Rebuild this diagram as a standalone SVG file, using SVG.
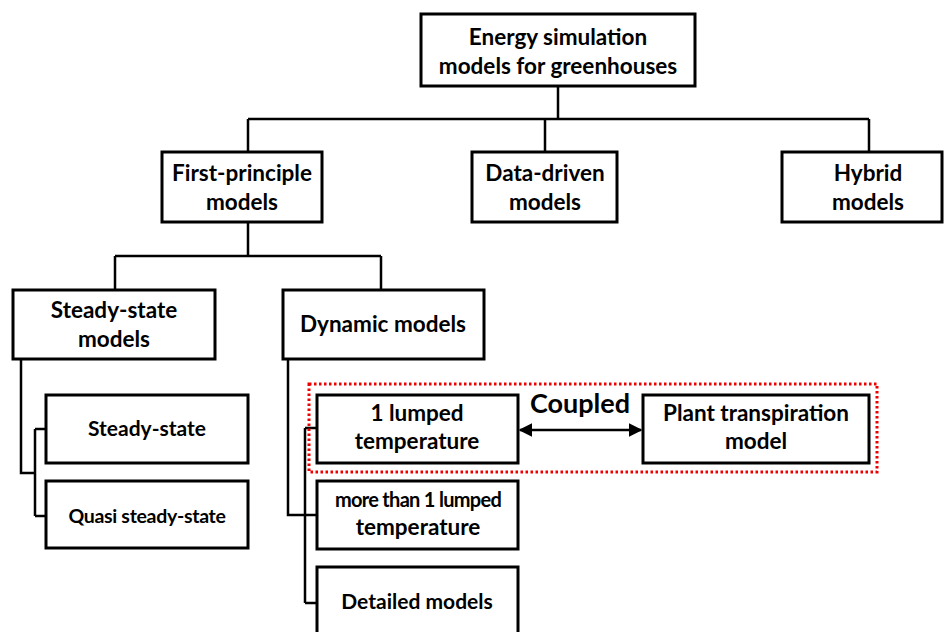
<svg xmlns="http://www.w3.org/2000/svg" width="944" height="632" viewBox="0 0 944 632">
<defs>
<style>
.box{fill:#fff;stroke:#000;stroke-width:3}
.t{font-family:Lato,"Open Sans","Liberation Sans",sans-serif;font-weight:bold;font-size:22.5px;text-anchor:middle;fill:#000}
.s{font-size:20px;letter-spacing:-0.7px}
.m{font-size:21px}
.q{font-size:19.5px;letter-spacing:-0.3px}
.c{font-size:27px}
.ln{fill:none;stroke:#000;stroke-width:2.5}
</style>
<marker id="ah" viewBox="0 0 10 10" refX="9" refY="5" markerWidth="5.5" markerHeight="5.5" orient="auto-start-reverse" markerUnits="strokeWidth">
<path d="M0,0 L10,5 L0,10 z" fill="#000"/>
</marker>
</defs>
<rect width="944" height="632" fill="#fff"/>
<g id="connectors">
<path class="ln" d="M558,86 V119 M248,119 H869 M248,119 V152 M545,119 V152 M869,119 V152"/>
<path class="ln" d="M248,222 V256 M115,256 H381 M115,256 V290 M381,256 V290"/>
<path class="ln" d="M21,359 V473 H35 M35,429 V516 M35,429 H46 M35,516 H46"/>
<path class="ln" d="M288,359 V515 H317 M305,428 V603 M305,428 H317 M305,603 H317"/>
<path class="ln" d="M520,430 H641" marker-start="url(#ah)" marker-end="url(#ah)"/>
<text class="t c" x="580" y="413">Coupled</text>
</g>
<rect x="309" y="384" width="568" height="88" fill="none" stroke="#e00" stroke-width="3" stroke-dasharray="2.5 2.5"/>
<g id="n-root"><rect class="box" x="421" y="14" width="274" height="72"/><text class="t" x="558" y="45">Energy simulation</text><text class="t" x="558" y="74">models for greenhouses</text></g>
<g id="n-first"><rect class="box" x="162" y="152" width="160" height="70"/><text class="t" x="242" y="181">First-principle</text><text class="t" x="242" y="210">models</text></g>
<g id="n-data"><rect class="box" x="472" y="152" width="145" height="70"/><text class="t" x="545" y="181">Data-driven</text><text class="t" x="545" y="210">models</text></g>
<g id="n-hybrid"><rect class="box" x="782" y="152" width="160" height="70"/><text class="t" x="868" y="181">Hybrid</text><text class="t" x="868" y="210">models</text></g>
<g id="n-steadymodels"><rect class="box" x="13" y="290" width="202" height="69"/><text class="t" x="114" y="318">Steady-state</text><text class="t" x="114" y="347">models</text></g>
<g id="n-dynamic"><rect class="box" x="283" y="290" width="201" height="69"/><text class="t" x="383" y="332">Dynamic models</text></g>
<g id="n-steady"><rect class="box" x="46" y="395" width="202" height="68"/><text class="t m" x="147" y="436">Steady-state</text></g>
<g id="n-quasi"><rect class="box" x="46" y="481" width="202" height="67"/><text class="t q" x="147" y="523">Quasi steady-state</text></g>
<g id="n-lumped1"><rect class="box" x="317" y="395" width="201" height="68"/><text class="t" x="417" y="421">1 lumped</text><text class="t" x="417" y="449">temperature</text></g>
<g id="n-plant"><rect class="box" x="643" y="395" width="226" height="68"/><text class="t" x="756" y="421">Plant transpiration</text><text class="t" x="756" y="449">model</text></g>
<g id="n-lumpedmore"><rect class="box" x="317" y="481" width="201" height="68"/><text class="t s" x="418" y="507">more than 1 lumped</text><text class="t" x="418" y="535">temperature</text></g>
<g id="n-detailed"><rect class="box" x="317" y="567" width="201" height="70"/><text class="t m" x="417" y="609">Detailed models</text></g>
</svg>
